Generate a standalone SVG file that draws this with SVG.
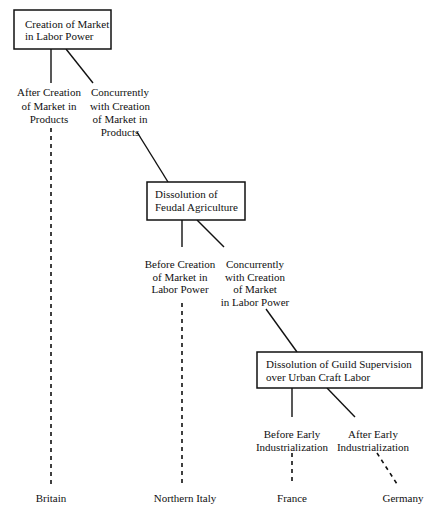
<svg xmlns="http://www.w3.org/2000/svg" width="434" height="510" viewBox="0 0 434 510">
<style>
text{font-family:'Liberation Serif','Times New Roman',serif;font-size:11px;fill:#111}
.c{text-anchor:middle}
.box{fill:#fff;stroke:#111;stroke-width:1.5}
.ln{stroke:#111;stroke-width:1.4;fill:none}
.ds{stroke:#111;stroke-width:1.6;fill:none;stroke-dasharray:4 4}
</style>
<rect width="434" height="510" fill="#fff"/>
<g id="connectors">
<line class="ln" x1="51" y1="49" x2="51" y2="83"/>
<line class="ln" x1="66" y1="49" x2="93" y2="83"/>
<line class="ds" x1="51" y1="128" x2="51" y2="486"/>
<line class="ln" x1="137" y1="132" x2="168" y2="182"/>
<line class="ln" x1="182" y1="220" x2="182" y2="247"/>
<line class="ln" x1="197" y1="220" x2="224" y2="247"/>
<line class="ds" x1="182" y1="303" x2="182" y2="486"/>
<line class="ln" x1="266" y1="309" x2="297" y2="352"/>
<line class="ln" x1="292" y1="388" x2="292" y2="417"/>
<line class="ln" x1="327" y1="388" x2="355" y2="417"/>
<line class="ds" x1="292" y1="453" x2="292" y2="485"/>
<line class="ds" x1="377" y1="453" x2="397" y2="484"/>
</g>
<g font-family="Liberation Serif, serif" font-size="11">
<g id="n1">
<rect class="box" x="14" y="10" width="97" height="39"/>
<text x="25" y="28">Creation of Market</text>
<text x="25" y="40">in Labor Power</text>
</g>
<g id="l1a">
<text class="c" x="49" y="96">After Creation</text>
<text class="c" x="49" y="110">of Market in</text>
<text class="c" x="49" y="123">Products</text>
</g>
<g id="l1b">
<text class="c" x="120" y="96">Concurrently</text>
<text class="c" x="120" y="110">with Creation</text>
<text class="c" x="120" y="123">of Market in</text>
<text class="c" x="120" y="136">Products</text>
</g>
<g id="n2">
<rect class="box" x="147" y="182" width="98" height="38"/>
<text x="155" y="198">Dissolution of</text>
<text x="155" y="211">Feudal Agriculture</text>
</g>
<g id="l2a">
<text class="c" x="180" y="268">Before Creation</text>
<text class="c" x="180" y="281">of Market in</text>
<text class="c" x="180" y="293">Labor Power</text>
</g>
<g id="l2b">
<text class="c" x="255" y="268">Concurrently</text>
<text class="c" x="255" y="281">with Creation</text>
<text class="c" x="255" y="293">of Market</text>
<text class="c" x="255" y="306">in Labor Power</text>
</g>
<g id="n3">
<rect class="box" x="257" y="352" width="165" height="36"/>
<text x="266" y="368">Dissolution of Guild Supervision</text>
<text x="266" y="381">over Urban Craft Labor</text>
</g>
<g id="l3a">
<text class="c" x="292" y="438">Before Early</text>
<text class="c" x="292" y="451">Industrialization</text>
</g>
<g id="l3b">
<text class="c" x="373" y="438">After Early</text>
<text class="c" x="373" y="451">Industrialization</text>
</g>
<g id="britain"><text class="c" x="51" y="502">Britain</text></g>
<g id="italy"><text class="c" x="185" y="502">Northern Italy</text></g>
<g id="france"><text class="c" x="292" y="502">France</text></g>
<g id="germany"><text class="c" x="403" y="502">Germany</text></g>
</g>
</svg>
